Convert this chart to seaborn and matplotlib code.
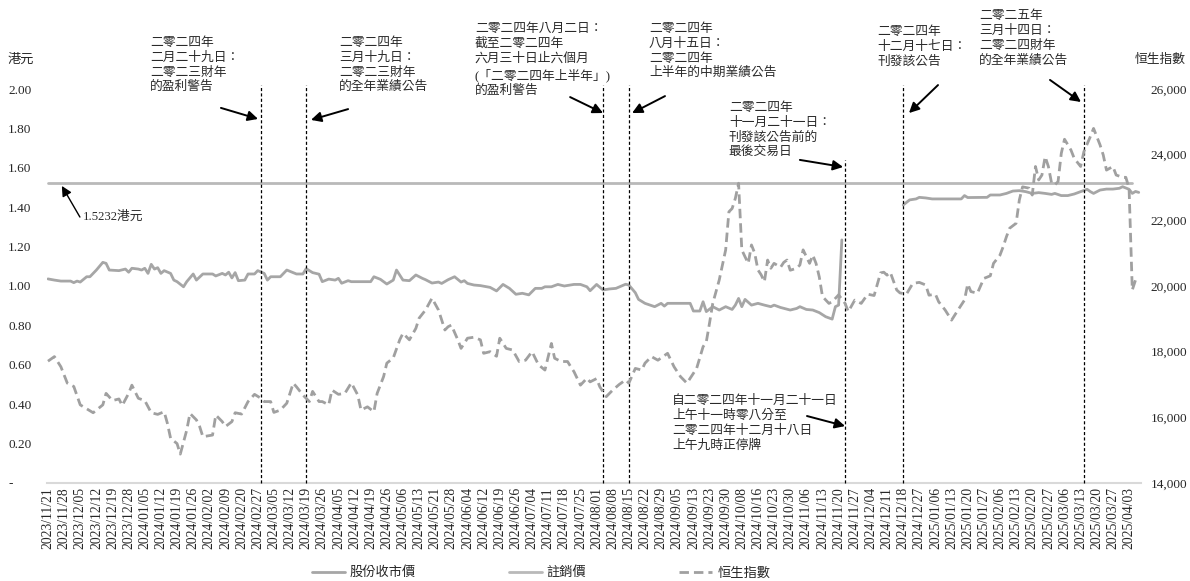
import numpy as np
import pandas as pd
import seaborn as sns
import matplotlib.pyplot as plt
from matplotlib.lines import Line2D

# x axis = trading-day index from 2023/11/21, one tick label every 5 trading days
tick_labels = [
    '2023/11/21', '2023/11/28', '2023/12/05', '2023/12/12', '2023/12/19', '2023/12/28',
    '2024/01/05', '2024/01/12', '2024/01/19', '2024/01/26', '2024/02/02', '2024/02/09',
    '2024/02/20', '2024/02/27', '2024/03/05', '2024/03/12', '2024/03/19', '2024/03/26',
    '2024/04/05', '2024/04/12', '2024/04/19', '2024/04/26', '2024/05/06', '2024/05/13',
    '2024/05/21', '2024/05/28', '2024/06/04', '2024/06/12', '2024/06/19', '2024/06/26',
    '2024/07/04', '2024/07/11', '2024/07/18', '2024/07/25', '2024/08/01', '2024/08/08',
    '2024/08/15', '2024/08/22', '2024/08/29', '2024/09/05', '2024/09/13', '2024/09/23',
    '2024/09/30', '2024/10/08', '2024/10/16', '2024/10/23', '2024/10/30', '2024/11/06',
    '2024/11/13', '2024/11/20', '2024/11/27', '2024/12/04', '2024/12/11', '2024/12/18',
    '2024/12/27', '2025/01/06', '2025/01/13', '2025/01/20', '2025/01/27', '2025/02/06',
    '2025/02/13', '2025/02/20', '2025/02/27', '2025/03/06', '2025/03/13', '2025/03/20',
    '2025/03/27', '2025/04/03']

# share closing price (HK$)
close_idx = [0, 2, 4, 7, 8, 9, 10, 12, 13, 15, 17, 18, 19, 22, 24, 25, 26, 28, 29, 30,
             31, 32, 33, 34, 35, 36, 38, 39, 40, 42, 43, 45, 46, 48, 51, 52, 54, 55, 56, 57,
             58, 59, 61, 62, 64, 65, 67, 68, 69, 72, 74, 77, 79, 80, 82, 84, 85, 87, 89, 90,
             91, 93, 94, 100, 101, 103, 105, 107, 108, 110, 112, 114, 116, 117, 119, 121, 122, 124, 126, 128,
             129, 130, 132, 134, 136, 137, 139, 141, 143, 145, 147, 149, 151, 153, 154, 156, 158, 160, 163, 165,
             167, 168, 170, 172, 174, 176, 179, 180, 182, 183, 185, 188, 190, 191, 192, 199, 200, 202, 203, 204,
             206, 208, 210, 212, 213, 214, 215, 216, 218, 220, 222, 224, 225, 227, 230, 232, 233, 235, 237, 239,
             241, 243, 244, 245, 246,
             265, 267, 269, 270, 272, 274, 283, 284, 285, 291, 292, 295, 297, 299, 301, 303, 305, 307, 309, 311,
             312, 314, 316, 318, 320, 322, 323, 324, 326, 328, 330, 332, 333, 335, 336, 337, 338]
close_val = [1.036, 1.030, 1.025, 1.025, 1.017, 1.025, 1.020, 1.047, 1.047, 1.081, 1.120, 1.115, 1.081, 1.078, 1.086, 1.070, 1.090, 1.086, 1.081, 1.090,
             1.064, 1.110, 1.086, 1.093, 1.064, 1.078, 1.064, 1.030, 1.022, 0.996, 1.022, 1.061, 1.030, 1.061, 1.061, 1.051, 1.064, 1.056, 1.070, 1.041,
             1.068, 1.027, 1.030, 1.061, 1.061, 1.078, 1.064, 1.030, 1.047, 1.047, 1.081, 1.061, 1.061, 1.088, 1.068, 1.060, 1.022, 1.035, 1.030, 1.039,
             1.014, 1.027, 1.022, 1.022, 1.047, 1.034, 1.010, 1.030, 1.081, 1.030, 1.027, 1.056, 1.039, 1.032, 1.015, 1.020, 1.013, 1.032, 1.047, 1.020,
             1.027, 1.013, 1.005, 1.002, 0.996, 0.993, 0.975, 1.008, 0.988, 0.958, 0.963, 0.955, 0.988, 0.988, 0.996, 0.996, 1.008, 1.000, 1.008, 1.008,
             0.996, 0.976, 1.008, 0.980, 0.985, 0.988, 1.009, 1.005, 0.966, 0.932, 0.912, 0.895, 0.912, 0.898, 0.912, 0.912, 0.873, 0.873, 0.920, 0.870,
             0.895, 0.878, 0.895, 0.881, 0.903, 0.937, 0.895, 0.932, 0.903, 0.912, 0.903, 0.895, 0.903, 0.891, 0.878, 0.886, 0.895, 0.881, 0.878, 0.865,
             0.844, 0.832, 0.895, 0.903, 1.234,
             1.411, 1.437, 1.442, 1.450, 1.447, 1.442, 1.442, 1.459, 1.449, 1.450, 1.462, 1.462, 1.470, 1.482, 1.484, 1.479, 1.470, 1.474, 1.470, 1.465,
             1.470, 1.459, 1.459, 1.467, 1.479, 1.491, 1.479, 1.470, 1.487, 1.492, 1.492, 1.496, 1.504, 1.491, 1.470, 1.480, 1.475]

# trading halt 2024/11/21 - 2024/12/18 (no closing prices in between)
halt_last_idx = 246
resume_idx = 265

# cancellation price
cancel_price = 1.5232
cancel_span = [0, 336]

# Hang Seng Index
hsi_idx = [0, 2, 4, 6, 8, 10, 12, 14, 17, 18, 20, 22, 23, 25, 26, 28, 30, 32, 34, 36,
           37, 38, 40, 41, 43, 44, 46, 47, 48, 51, 52, 54, 55, 57, 58, 60, 62, 64, 66, 67,
           69, 70, 72, 74, 76, 77, 79, 81, 82, 84, 85, 87, 88, 90, 92, 94, 96, 97, 99, 101,
           102, 104, 105, 107, 109, 110, 112, 114, 115, 117, 119, 121, 123, 124, 125, 127, 128, 130, 132, 134,
           135, 137, 139, 140, 142, 144, 146, 148, 150, 152, 154, 156, 157, 159, 161, 162, 163, 165, 167, 168,
           170, 171, 173, 175, 177, 179, 180, 182, 184, 185, 187, 189, 192, 194, 196, 198, 200, 201, 203, 204,
           205, 206, 208, 210, 211, 212, 213, 214, 215, 216, 217, 218, 219, 220, 221, 222, 223, 224, 225, 227,
           228, 229, 230, 232, 233, 234, 236, 237, 238, 239, 240, 242, 243, 245, 247, 248, 250, 252, 254, 256,
           258, 259, 260, 261, 263, 264, 266, 268, 270, 272, 273, 275, 276, 278, 280, 282, 284, 285, 286, 288,
           290, 292, 293, 295, 296, 297, 298, 300, 301, 302, 304, 305, 306, 307, 308, 309, 310, 311, 312, 313,
           314, 315, 317, 318, 320, 321, 323, 324, 326, 327, 328, 330, 331, 333, 334, 335, 336, 337]
hsi_val = [17710, 17850, 17540, 17040, 16940, 16380, 16260, 16140, 16380, 16730, 16510, 16560, 16360, 16730, 16980, 16580, 16510, 16140, 16090, 16170,
           15820, 15360, 15200, 14880, 15610, 16120, 15920, 15720, 15410, 15460, 16070, 15870, 15720, 15870, 16140, 16100, 16480, 16700, 16580, 16480,
           16480, 16150, 16220, 16430, 17040, 16930, 16680, 16480, 16790, 16480, 16480, 16380, 16830, 16700, 16730, 17050, 16680, 16220, 16320, 16170,
           16730, 17240, 17650, 17810, 18360, 18560, 18360, 18710, 19020, 19270, 19630, 19270, 18660, 18760, 18810, 18360, 18100, 18410, 18440, 18360,
           17950, 18000, 17860, 18410, 18100, 18050, 17700, 17740, 18000, 17600, 17440, 18250, 17800, 17700, 17700, 17540, 17390, 16980, 17190, 17080,
           17180, 16930, 16630, 16830, 17000, 17140, 17040, 17490, 17440, 17650, 17850, 17740, 17950, 17540, 17240, 17040, 17340, 17490, 18150, 18300,
           18870, 19470, 20180, 21100, 22260, 22360, 22670, 23130, 21100, 20890, 20690, 21250, 21000, 20490, 20340, 20130, 20790, 20540, 20690, 20570,
           20720, 20790, 20480, 20540, 20640, 21100, 20690, 20940, 20690, 20280, 19680, 19470, 19520, 19730, 19470, 19220, 19570, 19470, 19750, 19710,
           20400, 20420, 20330, 20420, 19880, 19790, 19750, 20080, 20110, 20030, 19720, 19750, 19520, 19270, 18960, 19270, 19570, 20060, 19830, 19780,
           20230, 20310, 20690, 20940, 21200, 21500, 21760, 21910, 22620, 23020, 22980, 22770, 23640, 23230, 23380, 23940, 23640, 23130, 23080, 23180,
           24040, 24470, 24140, 23890, 23640, 24090, 24550, 24800, 24300, 23990, 23530, 23640, 23380, 23310, 23310, 22980, 19880, 20180]

# announcement dates (trading-day index) marked by dashed lines
event_dates = ['2024/02/29', '2024/03/19', '2024/08/02', '2024/08/15',
               '2024/11/21', '2024/12/17', '2025/03/14']
event_idx = [66, 80, 172, 180, 247, 265, 321]

legend_labels = ['股份收市價', '註銷價', '恒生指數']

sns.set_theme(style='white')
plt.rcParams['font.family'] = ['Liberation Serif', 'Noto Sans CJK TC']
plt.rcParams['axes.unicode_minus'] = False

close_df = pd.DataFrame({'idx': close_idx, 'price': close_val})
before = close_df[close_df['idx'] <= halt_last_idx]
after = close_df[close_df['idx'] >= resume_idx]
hsi_df = pd.DataFrame({'idx': hsi_idx, 'hsi': hsi_val})

c_close = '#a6a6a6'
c_cancel = '#b9b9b9'
c_hsi = '#a0a0a0'
hsi_dash = (0, (3.4, 1.8))

fig = plt.figure(figsize=(11.9, 5.81), dpi=100)
ax = fig.add_axes([47 / 1190, 1 - 483 / 581, (1141 - 47) / 1190, (483 - 89) / 581])
ax2 = ax.twinx()

sns.lineplot(x=cancel_span, y=[cancel_price] * 2, ax=ax, color=c_cancel, lw=2.0)
sns.lineplot(data=before, x='idx', y='price', ax=ax, color=c_close, lw=2.0)
sns.lineplot(data=after, x='idx', y='price', ax=ax, color=c_close, lw=2.0)
sns.lineplot(data=hsi_df, x='idx', y='hsi', ax=ax2, color=c_hsi, lw=2.0,
             linestyle=hsi_dash)

for xi in event_idx:
    top = 1.64 if xi == 247 else 2.02
    ax.plot([xi, xi], [0, top], color='black', lw=0.9, ls=(0, (2.5, 1.8)),
            clip_on=False, zorder=3)

ax.set_xlim(-0.3, 338.7)
ax.set_ylim(0, 2.0)
ax2.set_ylim(14000, 26000)

ax.set_xticks(np.arange(len(tick_labels)) * 5)
ax.set_xticklabels(tick_labels, rotation=90, fontsize=9.8)
ax.set_yticks(np.arange(0, 2.01, 0.2))
ax.set_yticklabels(['-'] + [f'{v:.2f}' for v in np.arange(0.2, 2.01, 0.2)], fontsize=9.5)
for lbl in ax.get_yticklabels():
    lbl.set_horizontalalignment('left')
ax.tick_params(axis='y', length=0, pad=28)
ax.tick_params(axis='x', length=0, pad=3)
ax2.set_yticks(np.arange(14000, 26001, 2000))
ax2.set_yticklabels([f'{v:,}' for v in range(14000, 26001, 2000)], fontsize=9.5)
ax2.tick_params(axis='y', length=0, pad=7)
ax.set_xlabel('')
ax.set_ylabel('')
ax2.set_ylabel('')

for a in (ax, ax2):
    for side in ['left', 'right', 'top', 'bottom']:
        a.spines[side].set_visible(False)
ax.spines['bottom'].set_visible(True)
ax.spines['bottom'].set_color('#d9d9d9')
ax.spines['bottom'].set_linewidth(1.5)

fig.text(8 / 1190, 1 - 60 / 581, '港元', ha='left', va='center', fontsize=9.5)
fig.text(1186 / 1190, 1 - 60 / 581, '恒生指數', ha='right', va='center', fontsize=9.2)

# annotation text blocks (index, value above plot) and arrows
notes = [
    (31.6, 2.265, '二零二四年\n二月二十九日：\n二零二三財年\n的盈利警告'),
    (90.2, 2.265, '二零二四年\n三月十九日：\n二零二三財年\n的全年業績公告'),
    (132.3, 2.335, '二零二四年八月二日：\n截至二零二四年\n六月三十日止六個月\n(「二零二四年上半年」)\n的盈利警告'),
    (186.2, 2.335, '二零二四年\n八月十五日：\n二零二四年\n上半年的中期業績公告'),
    (211.0, 1.935, '二零二四年\n十一月二十一日：\n刊發該公告前的\n最後交易日'),
    (256.9, 2.32, '二零二四年\n十二月十七日：\n刊發該公告'),
    (288.5, 2.40, '二零二五年\n三月十四日：\n二零二四財年\n的全年業績公告'),
    (193.4, 0.445, '自二零二四年十一月二十一日\n上午十一時零八分至\n二零二四年十二月十八日\n上午九時正停牌'),
]
for x, y, t in notes:
    ax.text(x, y, t, ha='left', va='top', fontsize=9.2, linespacing=1.3,
            color='#2a2a2a', clip_on=False)

ax.text(10.8, 1.35, '1.5232港元', ha='left', va='center', fontsize=9.2,
        color='#2a2a2a', clip_on=False)

arrows = [
    ((53.6, 1.904), (65.1, 1.848)),
    ((93.0, 1.898), (81.5, 1.843)),
    ((161.8, 1.959), (172.0, 1.878)),
    ((191.2, 1.964), (181.0, 1.878)),
    ((233.0, 1.640), (246.4, 1.604)),
    ((275.8, 2.020), (266.8, 1.878)),
    ((310.5, 2.046), (320.1, 1.934)),
    ((235.2, 0.340), (247.0, 0.289)),
]
for tail, head in arrows:
    ax.annotate('', xy=head, xytext=tail, annotation_clip=False,
                arrowprops=dict(arrowstyle='-|>', color='black', lw=1.4,
                                mutation_scale=15, shrinkA=0, shrinkB=0))
ax.annotate('', xy=(4.3, 1.508), xytext=(9.9, 1.35), annotation_clip=False,
            arrowprops=dict(arrowstyle='-|>', color='black', lw=1.0,
                            mutation_scale=15, shrinkA=0, shrinkB=0))

handles = [Line2D([], [], color=c_close, lw=2.0),
           Line2D([], [], color=c_cancel, lw=2.0),
           Line2D([], [], color=c_hsi, lw=2.0, linestyle=hsi_dash)]
fig.legend(handles, legend_labels, loc='center', bbox_to_anchor=(541 / 1190, 1 - 573 / 581),
           ncol=3, frameon=False, fontsize=9.5, handlelength=2.5, handletextpad=0.4,
           columnspacing=7)

fig.savefig('out.png', dpi=100)
